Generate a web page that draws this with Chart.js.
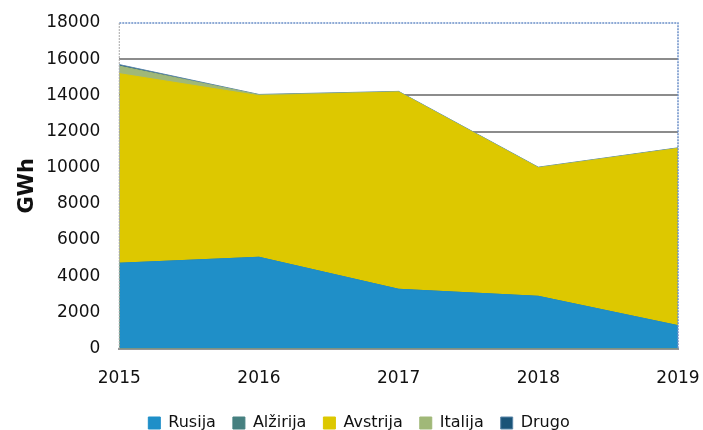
<!DOCTYPE html>
<html>
<head>
<meta charset="utf-8">
<script src="https://cdn.jsdelivr.net/npm/chart.js@4/dist/chart.umd.min.js"></script>
<style>
  html, body { margin: 0; padding: 0; background: #fff; }
  #wrap { width: 703px; height: 430px; }
</style>
</head>
<body>
<div id="wrap"><canvas id="canvas"></canvas></div>
<script>
// data (GWh)
var years = ['2015', '2016', '2017', '2018', '2019'];
var rusija   = [4720, 5050, 3280, 2890, 1270];
var alzirija = [0, 0, 0, 0, 0];
var avstrija = [10480, 8930, 10900, 7100, 9790];
var italija  = [420, 50, 20, 20, 20];
var drugo    = [80, 20, 20, 20, 20];
var yTicks = [0, 2000, 4000, 6000, 8000, 10000, 12000, 14000, 16000, 18000];

function area(label, data, color, line) {
  return {
    label: label,
    data: data,
    backgroundColor: color,
    borderColor: line || color,
    borderWidth: 1,
    fill: true,
    pointRadius: 0,
    tension: 0
  };
}

// dotted frame: blue on top and right, grey on the left
var frame = {
  id: 'frame',
  afterDraw: function(chart) {
    var a = chart.chartArea, ctx = chart.ctx;
    ctx.save();
    ctx.lineWidth = 1.5;
    ctx.setLineDash([2, 1]);
    ctx.strokeStyle = '#6a8fc8';
    ctx.beginPath();
    ctx.moveTo(a.left, a.top);
    ctx.lineTo(a.right, a.top);
    ctx.lineTo(a.right, a.bottom);
    ctx.stroke();
    ctx.strokeStyle = '#a8a8a8';
    ctx.lineWidth = 1;
    ctx.beginPath();
    ctx.moveTo(a.left, a.top);
    ctx.lineTo(a.left, a.bottom);
    ctx.stroke();
    ctx.restore();
  }
};

window.onload = function() {
  var ctx = document.getElementById('canvas').getContext('2d');
  new Chart(ctx, {
    type: 'line',
    data: {
      labels: years,
      datasets: [
        area('Rusija', rusija, '#1f8fc8'),
        area('Alžirija', alzirija, '#468080'),
        area('Avstrija', avstrija, '#ddc800'),
        area('Italija', italija, '#a0b878'),
        area('Drugo', drugo, '#1a5478', '#5a86a8')
      ]
    },
    options: {
      responsive: true,
      maintainAspectRatio: false,
      animation: false,
      layout: { padding: { top: 0, right: 0, left: 15, bottom: -11 } },
      plugins: {
        legend: {
          position: 'bottom',
          labels: {
            font: { family: 'DejaVu Sans', size: 16 },
            color: '#111',
            boxWidth: 12,
            boxHeight: 12,
            padding: 17
          }
        },
        tooltip: { enabled: false }
      },
      scales: {
        x: {
          offset: false,
          grid: { display: false },
          border: { color: '#959595', width: 2 },
          ticks: {
            font: { family: 'DejaVu Sans', size: 17 },
            color: '#111',
            maxRotation: 0,
            padding: 12
          },
          afterFit: function(s) {
            s.height -= 3;
            s.paddingRight = 25;
          }
        },
        y: {
          stacked: true,
          min: 0,
          max: 18000,
          afterBuildTicks: function(axis) {
            axis.ticks = yTicks.map(function(v) { return { value: v }; });
          },
          afterFit: function(s) { s.paddingTop = 23; },
          grid: {
            color: function(c) {
              return (c.tick.value === 0 || c.tick.value === 18000) ? 'rgba(0,0,0,0)' : '#8c8c8c';
            },
            lineWidth: 2,
            drawTicks: false
          },
          border: { display: false },
          ticks: {
            font: { family: 'DejaVu Sans', size: 17 },
            color: '#111',
            padding: 19,
            callback: function(v) { return String(v); }
          },
          title: {
            display: true,
            text: 'GWh',
            font: { family: 'DejaVu Sans', size: 21, weight: 'bold' },
            color: '#111',
            padding: { top: 0, bottom: -13 }
          }
        }
      }
    },
    plugins: [frame]
  });
};
</script>
</body>
</html>
